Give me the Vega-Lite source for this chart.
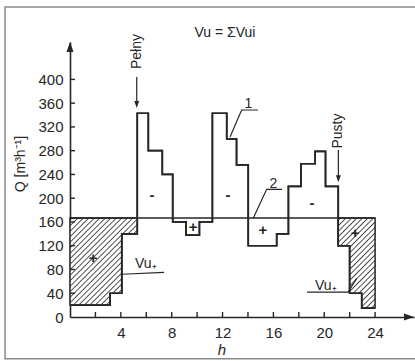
{
  "$schema": "https://vega.github.io/schema/vega-lite/v6.json",
  "width": 344,
  "height": 275,
  "autosize": {"type": "none"},
  "padding": {"left": 70, "top": 42, "right": 1, "bottom": 44},
  "background": "#ffffff",
  "config": {"view": {"stroke": null}, "axis": {"grid": false}},
  "datasets": {
    "step": [
      {"h": 0, "q": 20}, {"h": 3.15, "q": 40}, {"h": 4.07, "q": 140}, {"h": 5.29, "q": 343},
      {"h": 6.16, "q": 280}, {"h": 7.26, "q": 240}, {"h": 8.08, "q": 160}, {"h": 9.13, "q": 138},
      {"h": 10.18, "q": 160}, {"h": 11.2, "q": 343}, {"h": 12.33, "q": 300}, {"h": 13.1, "q": 256},
      {"h": 14.02, "q": 120}, {"h": 16.26, "q": 140}, {"h": 17.18, "q": 220}, {"h": 18.17, "q": 258},
      {"h": 19.28, "q": 279}, {"h": 20.1, "q": 220}, {"h": 21.1, "q": 120}, {"h": 22.0, "q": 40},
      {"h": 22.95, "q": 15}, {"h": 24, "q": 15}
    ],
    "hatchL": [{"h": 0, "q": 20}, {"h": 3.15, "q": 40}, {"h": 4.07, "q": 140}, {"h": 5.29, "q": 140}],
    "hatchR": [{"h": 21.1, "q": 120}, {"h": 22.0, "q": 40}, {"h": 22.95, "q": 15}, {"h": 24, "q": 15}],
    "xticks": [{"h": 2}, {"h": 4}, {"h": 6}, {"h": 8}, {"h": 10}, {"h": 12}, {"h": 14}, {"h": 16}, {"h": 18}, {"h": 20}, {"h": 22}, {"h": 24}],
    "yticks": [{"q": 40}, {"q": 80}, {"q": 120}, {"q": 160}, {"q": 200}, {"q": 240}, {"q": 280}, {"q": 320}, {"q": 360}, {"q": 400}],
    "leaders": [
      {"id": "1", "o": 0, "h": 12.59, "q": 303}, {"id": "1", "o": 1, "h": 13.5, "q": 348.5}, {"id": "1", "o": 2, "h": 14.79, "q": 348.5},
      {"id": "2", "o": 0, "h": 14.42, "q": 166.7}, {"id": "2", "o": 1, "h": 15.47, "q": 215}, {"id": "2", "o": 2, "h": 16.68, "q": 215},
      {"id": "L", "o": 0, "h": 4.07, "q": 72}, {"id": "L", "o": 1, "h": 7.4, "q": 75},
      {"id": "R", "o": 0, "h": 18.64, "q": 42}, {"id": "R", "o": 1, "h": 21.87, "q": 42}, {"id": "R", "o": 2, "h": 22.55, "q": 65}
    ],
    "shafts": [{"h": 5.25, "q": 404, "q2": 360}, {"h": 21.11, "q": 281, "q2": 234}],
    "heads": [{"h": 5.25, "q": 352}, {"h": 21.11, "q": 227}],
    "rotText": [
      {"h": 5.25, "q": 447, "t": "Pełny"},
      {"h": 21.11, "q": 313, "t": "Pusty"},
      {"h": -3.85, "q": 257.6, "t": "Q [m³h⁻¹]"}
    ],
    "labels": [
      {"h": 12.19, "q": 472, "t": "Vu = ΣVui"},
      {"h": 14.03, "q": 352, "t": "1"},
      {"h": 16.0, "q": 218, "t": "2"}
    ],
    "vu": [
      {"h": 5.11, "q": 82.5, "t": "Vu₊"},
      {"h": 19.27, "q": 45.5, "t": "Vu₊"}
    ],
    "signs": [
      {"h": 6.45, "q": 205, "t": "-"}, {"h": 12.43, "q": 205, "t": "-"}, {"h": 19.04, "q": 192, "t": "-"},
      {"h": 9.68, "q": 151.5, "t": "+"}, {"h": 15.18, "q": 146.5, "t": "+"}, {"h": 1.81, "q": 99, "t": "+"}, {"h": 22.42, "q": 141, "t": "+"}
    ]
  },
  "layer": [
    {
      "data": {"name": "step"},
      "mark": {"type": "line", "interpolate": "step-after", "color": "#262626", "strokeWidth": 1.7},
      "encoding": {
        "x": {"field": "h", "type": "quantitative", "scale": {"domain": [0, 27.06], "nice": false, "zero": false},
          "axis": {"values": [4, 8, 12, 16, 20, 24], "tickCount": 30, "labelOverlap": false, "labelBound": false,
            "title": null, "ticks": false, "tickSize": 0, "labelPadding": 8, "domainColor": "#262626", "domainWidth": 1.6,
            "labelFont": "Liberation Sans", "labelFontSize": 15, "labelColor": "#262626", "labelFlush": false}},
        "y": {"field": "q", "type": "quantitative", "scale": {"domain": [0, 463], "nice": false, "zero": false},
          "axis": {"values": [0, 40, 80, 120, 160, 200, 240, 280, 320, 360, 400], "tickCount": 30, "labelOverlap": false, "labelBound": false,
            "title": null, "ticks": false, "tickSize": 0, "labelPadding": 7, "domainColor": "#262626", "domainWidth": 1.6,
            "labelFont": "Liberation Sans", "labelFontSize": 15, "labelColor": "#262626", "labelFlush": false}}
      }
    },
    {
      "data": {"values": [{"a": 1}]},
      "mark": {"type": "rect", "fill": "transparent", "stroke": "#8a8a8a", "strokeWidth": 1.5},
      "encoding": {
        "x": {"datum": -5.11, "type": "quantitative"}, "x2": {"datum": 29},
        "y": {"datum": 521.9, "type": "quantitative"}, "y2": {"datum": -70.5}
      }
    },
    {
      "data": {"name": "hatchL"},
      "mark": {"type": "area", "interpolate": "step-after", "stroke": "#262626", "strokeWidth": 1.5,
        "fill": {"gradient": "linear", "x1": 0, "y1": 0, "x2": 0.8568, "y2": 1.1105, "stops": [
          {"offset": 0.0065, "color": "#ffffff"}, {"offset": 0.0149, "color": "#444444"}, {"offset": 0.0233, "color": "#ffffff"},
          {"offset": 0.0421, "color": "#ffffff"}, {"offset": 0.0506, "color": "#444444"}, {"offset": 0.0590, "color": "#ffffff"},
          {"offset": 0.0778, "color": "#ffffff"}, {"offset": 0.0862, "color": "#444444"}, {"offset": 0.0946, "color": "#ffffff"},
          {"offset": 0.1134, "color": "#ffffff"}, {"offset": 0.1218, "color": "#444444"}, {"offset": 0.1303, "color": "#ffffff"},
          {"offset": 0.1491, "color": "#ffffff"}, {"offset": 0.1575, "color": "#444444"}, {"offset": 0.1659, "color": "#ffffff"},
          {"offset": 0.1847, "color": "#ffffff"}, {"offset": 0.1931, "color": "#444444"}, {"offset": 0.2016, "color": "#ffffff"},
          {"offset": 0.2204, "color": "#ffffff"}, {"offset": 0.2288, "color": "#444444"}, {"offset": 0.2372, "color": "#ffffff"},
          {"offset": 0.2560, "color": "#ffffff"}, {"offset": 0.2644, "color": "#444444"}, {"offset": 0.2729, "color": "#ffffff"},
          {"offset": 0.2916, "color": "#ffffff"}, {"offset": 0.3001, "color": "#444444"}, {"offset": 0.3085, "color": "#ffffff"},
          {"offset": 0.3273, "color": "#ffffff"}, {"offset": 0.3357, "color": "#444444"}, {"offset": 0.3441, "color": "#ffffff"},
          {"offset": 0.3629, "color": "#ffffff"}, {"offset": 0.3714, "color": "#444444"}, {"offset": 0.3798, "color": "#ffffff"},
          {"offset": 0.3986, "color": "#ffffff"}, {"offset": 0.4070, "color": "#444444"}, {"offset": 0.4154, "color": "#ffffff"},
          {"offset": 0.4342, "color": "#ffffff"}, {"offset": 0.4427, "color": "#444444"}, {"offset": 0.4511, "color": "#ffffff"},
          {"offset": 0.4699, "color": "#ffffff"}, {"offset": 0.4783, "color": "#444444"}, {"offset": 0.4867, "color": "#ffffff"},
          {"offset": 0.5055, "color": "#ffffff"}, {"offset": 0.5139, "color": "#444444"}, {"offset": 0.5224, "color": "#ffffff"},
          {"offset": 0.5412, "color": "#ffffff"}, {"offset": 0.5496, "color": "#444444"}, {"offset": 0.5580, "color": "#ffffff"},
          {"offset": 0.5768, "color": "#ffffff"}, {"offset": 0.5852, "color": "#444444"}, {"offset": 0.5937, "color": "#ffffff"},
          {"offset": 0.6125, "color": "#ffffff"}, {"offset": 0.6209, "color": "#444444"}, {"offset": 0.6293, "color": "#ffffff"},
          {"offset": 0.6481, "color": "#ffffff"}, {"offset": 0.6565, "color": "#444444"}, {"offset": 0.6650, "color": "#ffffff"},
          {"offset": 0.6837, "color": "#ffffff"}, {"offset": 0.6922, "color": "#444444"}, {"offset": 0.7006, "color": "#ffffff"},
          {"offset": 0.7194, "color": "#ffffff"}, {"offset": 0.7278, "color": "#444444"}, {"offset": 0.7362, "color": "#ffffff"},
          {"offset": 0.7550, "color": "#ffffff"}, {"offset": 0.7635, "color": "#444444"}, {"offset": 0.7719, "color": "#ffffff"},
          {"offset": 0.7907, "color": "#ffffff"}, {"offset": 0.7991, "color": "#444444"}, {"offset": 0.8075, "color": "#ffffff"},
          {"offset": 0.8263, "color": "#ffffff"}, {"offset": 0.8347, "color": "#444444"}, {"offset": 0.8432, "color": "#ffffff"},
          {"offset": 0.8620, "color": "#ffffff"}, {"offset": 0.8704, "color": "#444444"}, {"offset": 0.8788, "color": "#ffffff"},
          {"offset": 0.8976, "color": "#ffffff"}, {"offset": 0.9060, "color": "#444444"}, {"offset": 0.9145, "color": "#ffffff"},
          {"offset": 0.9333, "color": "#ffffff"}, {"offset": 0.9417, "color": "#444444"}, {"offset": 0.9501, "color": "#ffffff"},
          {"offset": 0.9689, "color": "#ffffff"}, {"offset": 0.9773, "color": "#444444"}, {"offset": 0.9858, "color": "#ffffff"}
        ]}},
      "encoding": {
        "x": {"field": "h", "type": "quantitative"},
        "y": {"field": "q", "type": "quantitative"},
        "y2": {"datum": 166.67}
      }
    },
    {
      "data": {"name": "hatchR"},
      "mark": {"type": "area", "interpolate": "step-after", "stroke": "#262626", "strokeWidth": 1.5,
        "fill": {"gradient": "linear", "x1": 0, "y1": 0, "x2": 0.4943, "y2": 1.2070, "stops": [
          {"offset": 0.0079, "color": "#ffffff"}, {"offset": 0.0181, "color": "#444444"}, {"offset": 0.0283, "color": "#ffffff"},
          {"offset": 0.0512, "color": "#ffffff"}, {"offset": 0.0614, "color": "#444444"}, {"offset": 0.0717, "color": "#ffffff"},
          {"offset": 0.0945, "color": "#ffffff"}, {"offset": 0.1047, "color": "#444444"}, {"offset": 0.1150, "color": "#ffffff"},
          {"offset": 0.1378, "color": "#ffffff"}, {"offset": 0.1480, "color": "#444444"}, {"offset": 0.1583, "color": "#ffffff"},
          {"offset": 0.1811, "color": "#ffffff"}, {"offset": 0.1913, "color": "#444444"}, {"offset": 0.2016, "color": "#ffffff"},
          {"offset": 0.2244, "color": "#ffffff"}, {"offset": 0.2346, "color": "#444444"}, {"offset": 0.2449, "color": "#ffffff"},
          {"offset": 0.2677, "color": "#ffffff"}, {"offset": 0.2780, "color": "#444444"}, {"offset": 0.2882, "color": "#ffffff"},
          {"offset": 0.3110, "color": "#ffffff"}, {"offset": 0.3213, "color": "#444444"}, {"offset": 0.3315, "color": "#ffffff"},
          {"offset": 0.3543, "color": "#ffffff"}, {"offset": 0.3646, "color": "#444444"}, {"offset": 0.3748, "color": "#ffffff"},
          {"offset": 0.3976, "color": "#ffffff"}, {"offset": 0.4079, "color": "#444444"}, {"offset": 0.4181, "color": "#ffffff"},
          {"offset": 0.4409, "color": "#ffffff"}, {"offset": 0.4512, "color": "#444444"}, {"offset": 0.4614, "color": "#ffffff"},
          {"offset": 0.4843, "color": "#ffffff"}, {"offset": 0.4945, "color": "#444444"}, {"offset": 0.5047, "color": "#ffffff"},
          {"offset": 0.5276, "color": "#ffffff"}, {"offset": 0.5378, "color": "#444444"}, {"offset": 0.5480, "color": "#ffffff"},
          {"offset": 0.5709, "color": "#ffffff"}, {"offset": 0.5811, "color": "#444444"}, {"offset": 0.5913, "color": "#ffffff"},
          {"offset": 0.6142, "color": "#ffffff"}, {"offset": 0.6244, "color": "#444444"}, {"offset": 0.6346, "color": "#ffffff"},
          {"offset": 0.6575, "color": "#ffffff"}, {"offset": 0.6677, "color": "#444444"}, {"offset": 0.6780, "color": "#ffffff"},
          {"offset": 0.7008, "color": "#ffffff"}, {"offset": 0.7110, "color": "#444444"}, {"offset": 0.7213, "color": "#ffffff"},
          {"offset": 0.7441, "color": "#ffffff"}, {"offset": 0.7543, "color": "#444444"}, {"offset": 0.7646, "color": "#ffffff"},
          {"offset": 0.7874, "color": "#ffffff"}, {"offset": 0.7976, "color": "#444444"}, {"offset": 0.8079, "color": "#ffffff"},
          {"offset": 0.8307, "color": "#ffffff"}, {"offset": 0.8409, "color": "#444444"}, {"offset": 0.8512, "color": "#ffffff"},
          {"offset": 0.8740, "color": "#ffffff"}, {"offset": 0.8843, "color": "#444444"}, {"offset": 0.8945, "color": "#ffffff"},
          {"offset": 0.9173, "color": "#ffffff"}, {"offset": 0.9276, "color": "#444444"}, {"offset": 0.9378, "color": "#ffffff"},
          {"offset": 0.9606, "color": "#ffffff"}, {"offset": 0.9709, "color": "#444444"}, {"offset": 0.9811, "color": "#ffffff"}
        ]}},
      "encoding": {
        "x": {"field": "h", "type": "quantitative"},
        "y": {"field": "q", "type": "quantitative"},
        "y2": {"datum": 166.67}
      }
    },
    {
      "data": {"values": [{"h": 0, "h2": 24, "q": 166.67}]},
      "mark": {"type": "rule", "color": "#262626", "strokeWidth": 1.6},
      "encoding": {
        "x": {"field": "h", "type": "quantitative"}, "x2": {"field": "h2"},
        "y": {"field": "q", "type": "quantitative"}
      }
    },
    {
      "data": {"name": "step"},
      "mark": {"type": "line", "interpolate": "step-after", "color": "#262626", "strokeWidth": 1.7},
      "encoding": {
        "x": {"field": "h", "type": "quantitative"},
        "y": {"field": "q", "type": "quantitative"}
      }
    },
    {
      "data": {"name": "xticks"},
      "mark": {"type": "tick", "orient": "vertical", "size": 5, "thickness": 1.4, "yOffset": -2.5, "color": "#262626", "opacity": 1},
      "encoding": {
        "x": {"field": "h", "type": "quantitative"},
        "y": {"datum": 0, "type": "quantitative"}
      }
    },
    {
      "data": {"name": "yticks"},
      "mark": {"type": "tick", "orient": "horizontal", "size": 5, "thickness": 1.4, "xOffset": 2.5, "color": "#262626", "opacity": 1},
      "encoding": {
        "x": {"datum": 0, "type": "quantitative"},
        "y": {"field": "q", "type": "quantitative"}
      }
    },
    {
      "data": {"name": "leaders"},
      "mark": {"type": "line", "color": "#262626", "strokeWidth": 1.2},
      "encoding": {
        "x": {"field": "h", "type": "quantitative"},
        "y": {"field": "q", "type": "quantitative"},
        "detail": {"field": "id"},
        "order": {"field": "o"}
      }
    },
    {
      "data": {"name": "shafts"},
      "mark": {"type": "rule", "color": "#262626", "strokeWidth": 1.2},
      "encoding": {
        "x": {"field": "h", "type": "quantitative"},
        "y": {"field": "q", "type": "quantitative"}, "y2": {"field": "q2"}
      }
    },
    {
      "data": {"name": "heads"},
      "mark": {"type": "point", "shape": "M0,0L-0.7,-2L0.7,-2Z", "size": 49, "filled": true, "color": "#262626", "opacity": 1},
      "encoding": {
        "x": {"field": "h", "type": "quantitative"},
        "y": {"field": "q", "type": "quantitative"}
      }
    },
    {
      "data": {"values": [{"h": 0, "q": 463}]},
      "mark": {"type": "point", "shape": "M0,0L0.7,2L-0.7,2Z", "size": 100, "filled": true, "color": "#262626", "opacity": 1},
      "encoding": {
        "x": {"field": "h", "type": "quantitative"},
        "y": {"field": "q", "type": "quantitative"}
      }
    },
    {
      "data": {"values": [{"h": 27.06, "q": 0}]},
      "mark": {"type": "point", "shape": "M0,0L-2,-0.7L-2,0.7Z", "size": 100, "filled": true, "color": "#262626", "opacity": 1},
      "encoding": {
        "x": {"field": "h", "type": "quantitative"},
        "y": {"field": "q", "type": "quantitative"}
      }
    },
    {
      "data": {"name": "rotText"},
      "mark": {"type": "text", "angle": 270, "align": "center", "baseline": "middle", "font": "Liberation Sans", "fontSize": 14, "color": "#262626"},
      "encoding": {
        "x": {"field": "h", "type": "quantitative"},
        "y": {"field": "q", "type": "quantitative"},
        "text": {"field": "t"}
      }
    },
    {
      "data": {"name": "labels"},
      "mark": {"type": "text", "align": "center", "baseline": "alphabetic", "font": "Liberation Sans", "fontSize": 14, "color": "#262626"},
      "encoding": {
        "x": {"field": "h", "type": "quantitative"},
        "y": {"field": "q", "type": "quantitative"},
        "text": {"field": "t"}
      }
    },
    {
      "data": {"name": "vu"},
      "mark": {"type": "text", "align": "left", "baseline": "alphabetic", "font": "Liberation Sans", "fontSize": 14, "color": "#262626"},
      "encoding": {
        "x": {"field": "h", "type": "quantitative"},
        "y": {"field": "q", "type": "quantitative"},
        "text": {"field": "t"}
      }
    },
    {
      "data": {"name": "signs"},
      "mark": {"type": "text", "align": "center", "baseline": "middle", "font": "Liberation Sans", "fontSize": 15, "fontWeight": "bold", "color": "#262626"},
      "encoding": {
        "x": {"field": "h", "type": "quantitative"},
        "y": {"field": "q", "type": "quantitative"},
        "text": {"field": "t"}
      }
    },
    {
      "data": {"values": [{"h": 11.96, "q": -55.6, "t": "h"}]},
      "mark": {"type": "text", "align": "center", "baseline": "middle", "font": "Liberation Sans", "fontSize": 15, "fontStyle": "italic", "color": "#262626"},
      "encoding": {
        "x": {"field": "h", "type": "quantitative"},
        "y": {"field": "q", "type": "quantitative"},
        "text": {"field": "t"}
      }
    }
  ]
}
